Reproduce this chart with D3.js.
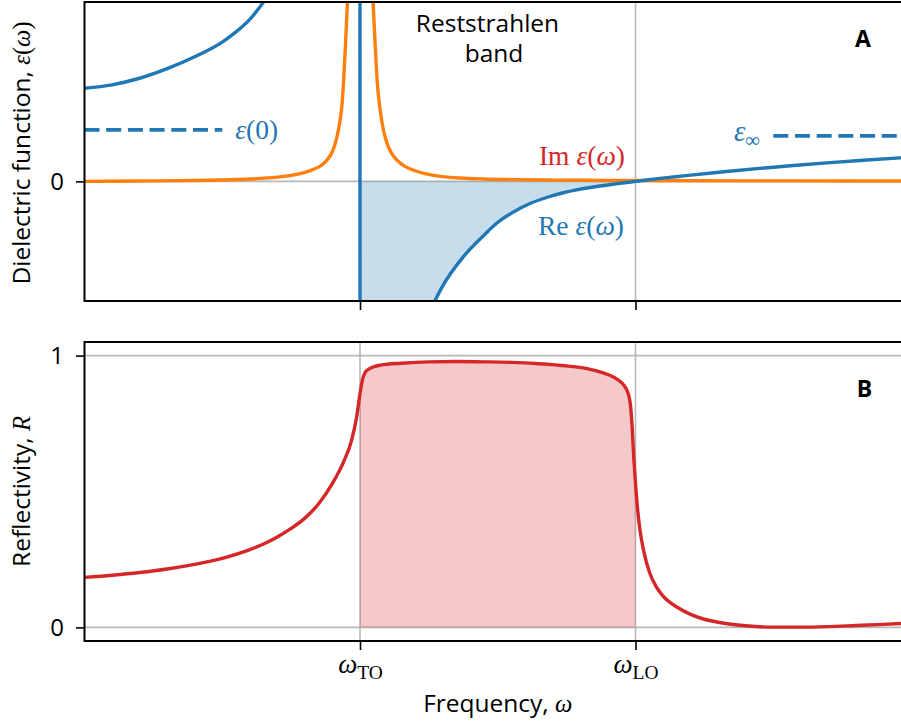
<!DOCTYPE html>
<html>
<head>
<meta charset="utf-8">
<script src="https://cdn.jsdelivr.net/npm/d3@7"></script>
<style>
  body { margin: 0; background: #fff; }
  svg { display: block; }
</style>
</head>
<body>
<svg id="chart" width="901" height="727"></svg>
<script>
// ---- data -------------------------------------------------------------
// frequency axis in units where ω_TO = 1 and ω_LO = 2
const xTickValues = [1, 2];
const xTickSubs = ["TO", "LO"];

// real part of the dielectric function (off-scale values run past the frame)
const reFreq = [0, 0.1, 0.2, 0.3, 0.4, 0.5, 0.55, 0.6, 0.65, 0.7, 0.75, 0.8, 0.85, 0.9, 0.95, 0.98, 0.995,
                1.005, 1.02, 1.05, 1.1, 1.2, 1.272, 1.30, 1.375, 1.45, 1.496, 1.55, 1.617, 1.68, 1.738, 1.80, 1.859, 1.93, 2.0,
                2.089, 2.174, 2.33, 2.45, 2.573, 2.694, 2.815, 2.96, 3.0];
const reEps  = [1.557, 1.615, 1.725, 1.885, 2.085, 2.33, 2.50, 2.71, 3.0, 3.35, 3.85, 4.6, 5.8, 8.2, 15, 35, 120,
                -120, -35, -12, -6, -3.0, -2.0, -1.75, -1.26, -0.90, -0.70, -0.53, -0.37, -0.265, -0.19, -0.13, -0.085, -0.04, 0,
                0.05, 0.092, 0.165, 0.217, 0.266, 0.31, 0.35, 0.393, 0.403];

// imaginary part of the dielectric function
const imFreq = [0, 0.2, 0.4, 0.5, 0.6, 0.7, 0.76, 0.80, 0.83, 0.86, 0.88, 0.90, 0.915, 0.927, 0.935, 0.942, 0.948, 0.952, 0.956,
                0.965, 0.985, 1.0, 1.015, 1.035, 1.046, 1.05, 1.056, 1.062, 1.073, 1.085, 1.097, 1.115, 1.133, 1.16, 1.193,
                1.254, 1.30, 1.363, 1.45, 1.55, 1.7, 1.9, 2.2, 2.6, 3.0];
const imEps  = [0.0, 0.006, 0.016, 0.024, 0.04, 0.072, 0.108, 0.15, 0.198, 0.27, 0.355, 0.50, 0.72, 1.0, 1.3, 1.8, 2.35, 2.75, 3.2,
                5.5, 13, 17, 13, 5.5, 3.2, 2.75, 2.2, 1.7, 1.2, 0.86, 0.65, 0.47, 0.36, 0.26, 0.19,
                0.112, 0.08, 0.056, 0.04, 0.03, 0.022, 0.016, 0.011, 0.008, 0.006];

// reflectivity
const rFreq = [0, 0.1, 0.2, 0.3, 0.4, 0.5, 0.6, 0.65, 0.7, 0.75, 0.8, 0.85, 0.9, 0.94, 0.97, 0.988, 1.0, 1.01, 1.02, 1.035,
               1.05, 1.075, 1.15, 1.25, 1.35, 1.45, 1.55, 1.65, 1.75, 1.82, 1.88, 1.92, 1.95, 1.965, 1.975, 1.982, 1.988, 1.994,
               2.0, 2.008, 2.016, 2.03, 2.05, 2.075, 2.1, 2.15, 2.2, 2.25, 2.3, 2.4, 2.5, 2.6, 2.7, 2.8, 2.9, 3.0];
const rVal  = [0.184, 0.192, 0.202, 0.215, 0.232, 0.254, 0.286, 0.307, 0.333, 0.364, 0.402, 0.455, 0.530, 0.608, 0.690, 0.775,
               0.860, 0.915, 0.940, 0.952, 0.959, 0.965, 0.972, 0.977, 0.978, 0.977, 0.975, 0.970, 0.962, 0.953, 0.937, 0.921,
               0.900, 0.880, 0.855, 0.815, 0.735, 0.620, 0.530, 0.430, 0.360, 0.280, 0.205, 0.150, 0.115, 0.075, 0.048, 0.030,
               0.019, 0.006, 0.001, 0.001, 0.003, 0.007, 0.011, 0.016];

// reference levels ε(0) and ε∞ and the frequency spans their dashes cover
const epsZero = 0.86, epsZeroSpan = [0, 0.5];
const epsInf = 0.76, epsInfSpan = [2.5, 3.0];

const yTopTicks = [0];
const yBotTicks = [0, 1];

// ---- styling ---------------------------------------------------------
const C = { blue: "#1f77b4", orange: "#ff7f0e", red: "#d62728", grid: "#b8b8b8" };
const SANS = "'Open Sans', 'Noto Sans', sans-serif";
const SERIF = "'Liberation Serif', 'DejaVu Serif', serif";
const LW = 3.4;
const MATH = 27.5;

const svg = d3.select("#chart");

const x = d3.scaleLinear().domain([0, 3]).range([84.5, 911]);
const yTop = d3.scaleLinear().domain([-2, 3]).range([301, 2]);
const yBot = d3.scaleLinear().domain([-0.05, 1.05]).range([641, 342]);

const zip = (a, b) => a.map((v, i) => [v, b[i]]);
const rePts = zip(reFreq, reEps);
const imPts = zip(imFreq, imEps);
const rPts = zip(rFreq, rVal);

const defs = svg.append("defs");
function clip(id, yScale) {
  defs.append("clipPath").attr("id", id).append("rect")
    .attr("x", x.range()[0]).attr("y", yScale.range()[1])
    .attr("width", x.range()[1] - x.range()[0])
    .attr("height", yScale.range()[0] - yScale.range()[1]);
}
clip("clipTop", yTop);
clip("clipBot", yBot);

// math-style label built from tspans: parts = [[text, style]] where style is
// "i" (italic serif), "r" (roman serif), "s" (sans), "sub" (roman subscript)
function mathLabel(sel, parts, size) {
  parts.forEach(([t, st]) => {
    const ts = sel.append("tspan").text(t);
    if (st === "s") ts.attr("font-family", SANS).attr("font-size", size);
    else ts.attr("font-family", SERIF).attr("font-size", size);
    if (st === "i") ts.attr("font-style", "italic");
    if (st === "sub") ts.attr("font-size", size * 0.72).attr("dy", size * 0.22);
  });
  return sel;
}

// ---- panel A: dielectric function ------------------------------------
const gA = svg.append("g");
const plotA = gA.append("g").attr("clip-path", "url(#clipTop)");

// grid
plotA.selectAll("line.hg").data(yTopTicks).join("line")
  .attr("x1", x.range()[0]).attr("x2", x.range()[1])
  .attr("y1", d => yTop(d)).attr("y2", d => yTop(d))
  .attr("stroke", C.grid).attr("stroke-width", 1.6);
plotA.selectAll("line.vg").data(xTickValues).join("line")
  .attr("x1", d => x(d)).attr("x2", d => x(d))
  .attr("y1", yTop.range()[1]).attr("y2", yTop.range()[0])
  .attr("stroke", C.grid).attr("stroke-width", 1.6);

// shaded negative-permittivity band between ω_TO and ω_LO
const bandRe = rePts.filter(d => d[0] >= xTickValues[0] && d[0] <= xTickValues[1]);
bandRe.unshift([xTickValues[0], bandRe[0][1]]);
plotA.append("path").datum(bandRe)
  .attr("d", d3.area().x(d => x(d[0])).y0(yTop(0)).y1(d => yTop(d[1])).curve(d3.curveMonotoneX))
  .attr("fill", C.blue).attr("fill-opacity", 0.25);

// dashed reference levels
[[epsZero, epsZeroSpan], [epsInf, epsInfSpan]].forEach(([v, span]) => {
  plotA.append("line")
    .attr("x1", x(span[0])).attr("x2", x(span[1]))
    .attr("y1", yTop(v)).attr("y2", yTop(v))
    .attr("stroke", C.blue).attr("stroke-width", 3.8).attr("stroke-dasharray", "15,6.7");
});

const lineTop = d3.line().x(d => x(d[0])).y(d => yTop(d[1])).curve(d3.curveMonotoneX);
plotA.append("path").datum(imPts).attr("d", lineTop)
  .attr("fill", "none").attr("stroke", C.orange).attr("stroke-width", LW);
plotA.append("path").datum(rePts).attr("d", lineTop)
  .attr("fill", "none").attr("stroke", C.blue).attr("stroke-width", LW);

// ---- panel B: reflectivity --------------------------------------------
const gB = svg.append("g");
const plotB = gB.append("g").attr("clip-path", "url(#clipBot)");
plotB.selectAll("line.hg").data(yBotTicks).join("line")
  .attr("x1", x.range()[0]).attr("x2", x.range()[1])
  .attr("y1", d => yBot(d)).attr("y2", d => yBot(d))
  .attr("stroke", C.grid).attr("stroke-width", 1.6);
plotB.selectAll("line.vg").data(xTickValues).join("line")
  .attr("x1", d => x(d)).attr("x2", d => x(d))
  .attr("y1", yBot.range()[1]).attr("y2", yBot.range()[0])
  .attr("stroke", C.grid).attr("stroke-width", 1.6);

const bandR = rPts.filter(d => d[0] >= xTickValues[0] && d[0] <= xTickValues[1]);
plotB.append("path").datum(bandR)
  .attr("d", d3.area().x(d => x(d[0])).y0(yBot(0)).y1(d => yBot(d[1])).curve(d3.curveMonotoneX))
  .attr("fill", C.red).attr("fill-opacity", 0.25);
plotB.append("path").datum(rPts)
  .attr("d", d3.line().x(d => x(d[0])).y(d => yBot(d[1])).curve(d3.curveMonotoneX))
  .attr("fill", "none").attr("stroke", C.red).attr("stroke-width", LW);

// ---- axes & spines ----------------------------------------------------
function styleAxis(g) {
  g.select(".domain").remove();
  g.selectAll(".tick line").attr("stroke", "#000").attr("stroke-width", 1.6);
  g.selectAll(".tick text").attr("font-family", SANS).attr("font-size", 24).attr("fill", "#000");
}
gA.append("g").attr("transform", `translate(${x.range()[0]},0)`)
  .call(d3.axisLeft(yTop).tickValues(yTopTicks).tickFormat(d3.format("d")).tickSize(8.5).tickPadding(12))
  .call(styleAxis);
gB.append("g").attr("transform", `translate(${x.range()[0]},0)`)
  .call(d3.axisLeft(yBot).tickValues(yBotTicks).tickFormat(d3.format("d")).tickSize(8.5).tickPadding(12))
  .call(styleAxis);
gA.append("g").attr("transform", `translate(0,${yTop.range()[0]})`)
  .call(d3.axisBottom(x).tickValues(xTickValues).tickFormat("").tickSize(9))
  .call(styleAxis);
const xAxB = gB.append("g").attr("transform", `translate(0,${yBot.range()[0]})`)
  .call(d3.axisBottom(x).tickValues(xTickValues).tickFormat("").tickSize(9))
  .call(styleAxis);
xAxB.selectAll(".tick").each(function (d, i) {
  const t = d3.select(this).append("text").attr("y", 32).attr("text-anchor", "middle").attr("fill", "#000");
  mathLabel(t, [["ω", "i"], [xTickSubs[i], "sub"]], 27);
});

function spines(y) {
  const [b, t] = y.range();
  const [l, r] = x.range();
  svg.append("path")
    .attr("d", `M${r},${t}H${l}V${b}H${r}V${t}`)
    .attr("fill", "none").attr("stroke", "#000").attr("stroke-width", 2);
}
spines(yTop);
spines(yBot);

// ---- labels -----------------------------------------------------------
mathLabel(svg.append("text").attr("transform", "translate(30,153) rotate(-90)")
  .attr("text-anchor", "middle").attr("fill", "#000"),
  [["Dielectric function, ", "s"], ["ε", "i"], ["(", "r"], ["ω", "i"], [")", "r"]], 24.5);
mathLabel(svg.append("text").attr("transform", "translate(30,491.5) rotate(-90)")
  .attr("text-anchor", "middle").attr("fill", "#000"),
  [["Reflectivity, ", "s"], ["R", "i"]], 24.5);
mathLabel(svg.append("text").attr("x", (x.range()[0] + x.range()[1]) / 2).attr("y", 712)
  .attr("text-anchor", "middle").attr("fill", "#000"),
  [["Frequency, ", "s"], ["ω", "i"]], 24.5);

// panel annotations
const ann = svg.append("g");
ann.append("text").attr("font-family", SANS).attr("font-size", 24.5).attr("fill", "#000")
  .attr("text-anchor", "middle")
  .selectAll("tspan").data([["Reststrahlen", 487.5], ["band", 494]]).join("tspan")
  .attr("x", d => d[1]).attr("y", (d, i) => 32 + i * 30).text(d => d[0]);

mathLabel(ann.append("text").attr("x", x(epsZeroSpan[1]) + 13).attr("y", yTop(epsZero) + 9).attr("fill", C.blue),
  [["ε", "i"], ["(0)", "r"]], MATH);
mathLabel(ann.append("text").attr("x", x(epsInfSpan[0]) - 13).attr("y", yTop(epsInf) + 5)
  .attr("text-anchor", "end").attr("fill", C.blue),
  [["ε", "i"], ["∞", "sub"]], MATH + 1.5);
mathLabel(ann.append("text").attr("x", 625).attr("y", 165).attr("text-anchor", "end").attr("fill", C.red),
  [["Im ", "r"], ["ε", "i"], ["(", "r"], ["ω", "i"], [")", "r"]], MATH);
mathLabel(ann.append("text").attr("x", 624).attr("y", 235).attr("text-anchor", "end").attr("fill", C.blue),
  [["Re ", "r"], ["ε", "i"], ["(", "r"], ["ω", "i"], [")", "r"]], MATH);

ann.append("text").attr("x", 863).attr("y", 47).attr("text-anchor", "middle")
  .attr("font-family", SANS).attr("font-weight", "bold").attr("font-size", 23).text("A");
ann.append("text").attr("x", 864.5).attr("y", 397).attr("text-anchor", "middle")
  .attr("font-family", SANS).attr("font-weight", "bold").attr("font-size", 23).text("B");
</script>
</body>
</html>
